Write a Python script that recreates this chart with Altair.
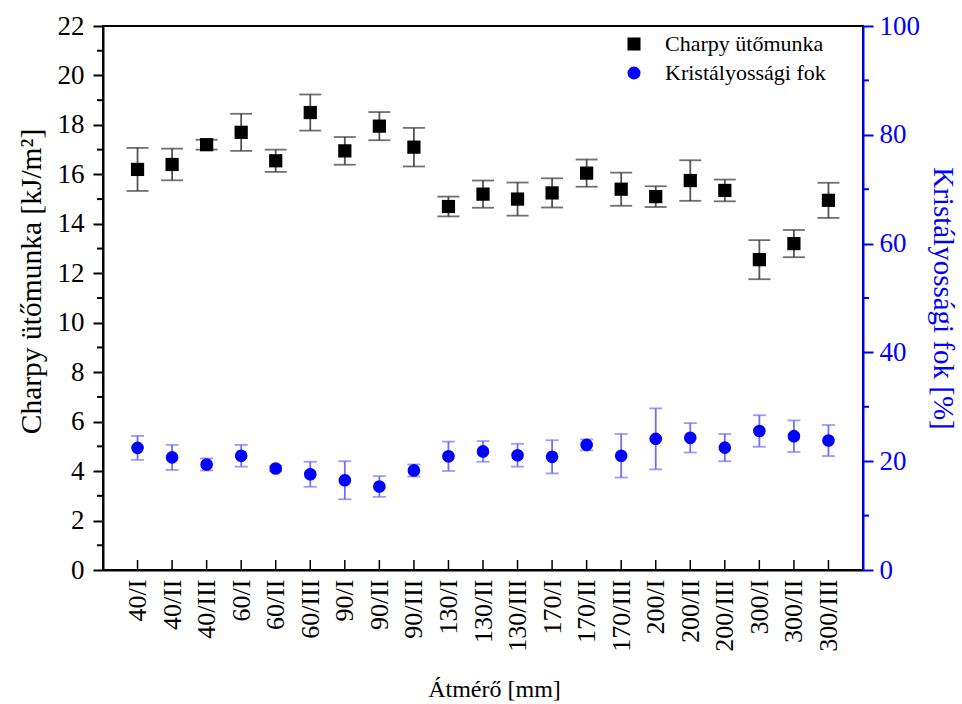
import altair as alt
import pandas as pd

cats = ["40/I", "40/II", "40/III", "60/I", "60/II", "60/III", "90/I", "90/II", "90/III",
        "130/I", "130/II", "130/III", "170/I", "170/II", "170/III",
        "200/I", "200/II", "200/III", "300/I", "300/II", "300/III"]

charpy = [16.2, 16.4, 17.2, 17.7, 16.55, 18.5, 16.95, 17.95, 17.1, 14.7, 15.2, 15.0,
          15.25, 16.05, 15.4, 15.1, 15.75, 15.35, 12.55, 13.2, 14.95]
charpy_err = [0.87, 0.64, 0.2, 0.75, 0.45, 0.73, 0.56, 0.57, 0.78, 0.4, 0.55, 0.67,
              0.59, 0.55, 0.67, 0.42, 0.82, 0.44, 0.79, 0.55, 0.71]

cryst = [22.45, 20.7, 19.4, 21.0, 18.65, 17.6, 16.5, 15.35, 18.3, 20.9, 21.8, 21.1,
         20.8, 23.0, 21.0, 24.1, 24.3, 22.5, 25.55, 24.6, 23.8]
cryst_err = [2.2, 2.3, 1.1, 2.0, 0.5, 2.3, 3.5, 1.9, 1.1, 2.7, 1.9, 2.1,
             3.05, 1.0, 4.0, 5.6, 2.7, 2.5, 2.9, 2.9, 2.85]

left_minor = [1, 3, 5, 7, 9, 11, 13, 15, 17, 19, 21]
right_minor = [10, 30, 50, 70, 90]
series_names = ["Charpy ütőmunka", "Kristályossági fok"]

W, H = 760, 544
FONT = "Times New Roman"

df = pd.DataFrame({
    "cat": cats,
    "charpy": charpy,
    "c_lo": [v - e for v, e in zip(charpy, charpy_err)],
    "c_hi": [v + e for v, e in zip(charpy, charpy_err)],
    "cryst": cryst,
    "k_lo": [v - e for v, e in zip(cryst, cryst_err)],
    "k_hi": [v + e for v, e in zip(cryst, cryst_err)],
})

x_axis = alt.Axis(title="Átmérő [mm]", labelAngle=-90, ticks=False, labelPadding=9,
                  labelFont=FONT, titleFont=FONT, titleX=391,
                  labelFontSize=26, titleFontSize=24, titlePadding=26,
                  domainColor="black", domainWidth=2, labelColor="black")
xenc = alt.X("cat:N", sort=cats, scale=alt.Scale(type="point", padding=1), axis=x_axis)

lscale = alt.Scale(domain=[0, 22], nice=False, zero=False)
laxis = alt.Axis(title="Charpy ütőmunka [kJ/m²]", orient="left", values=list(range(0, 23, 2)),
                 labelFont=FONT, titleFont=FONT, titleY=255,
                 tickSize=10, tickWidth=2, domainWidth=2, tickColor="black", domainColor="black",
                 labelFontSize=27, titleFontSize=29.5, labelPadding=9, titlePadding=11, grid=False)
rscale = alt.Scale(domain=[0, 100], nice=False, zero=False)
raxis = alt.Axis(title="Kristályossági fok [%]", orient="right", values=list(range(0, 101, 20)),
                 labelFont=FONT, titleFont=FONT,
                 tickSize=10, tickWidth=2, domainWidth=2, tickColor="blue", domainColor="blue",
                 labelColor="blue", titleColor="blue",
                 labelFontSize=27, titleFontSize=29, labelPadding=6, titlePadding=8, grid=False)

base = alt.Chart(df)

leg = alt.Legend(title=None, orient="none", legendX=520, legendY=7, labelFont=FONT,
                 labelFontSize=22, symbolSize=170, labelOffset=20, rowPadding=7, labelLimit=400,
                 padding=0, symbolOpacity=1, symbolStrokeWidth=0, labelColor="black")
cenc = alt.Color("series:N", scale=alt.Scale(domain=series_names, range=["black", "blue"]), legend=leg)
senc = alt.Shape("series:N", scale=alt.Scale(domain=series_names, range=["square", "circle"]), legend=leg)

# left series
l_rule = base.mark_rule(color="#555555", strokeWidth=1.8).encode(
    x=xenc, y=alt.Y("c_lo:Q", scale=lscale, axis=laxis), y2="c_hi:Q")
l_cap_hi = base.mark_tick(color="#333333", size=22, thickness=1.8).encode(
    x=xenc, y=alt.Y("c_hi:Q", scale=lscale, axis=laxis))
l_cap_lo = base.mark_tick(color="#333333", size=22, thickness=1.8).encode(
    x=xenc, y=alt.Y("c_lo:Q", scale=lscale, axis=laxis))
l_pts = base.transform_calculate(series="'" + series_names[0] + "'").mark_point(
    filled=True, opacity=1, size=175).encode(
    x=xenc, y=alt.Y("charpy:Q", scale=lscale, axis=laxis), color=cenc, shape=senc)
l_minor = alt.Chart(pd.DataFrame({"v": left_minor})).mark_rule(color="black", strokeWidth=2).encode(
    y=alt.Y("v:Q", scale=lscale, axis=laxis), x=alt.value(-6), x2=alt.value(0))
x_ticks = alt.Chart(pd.DataFrame({"cat": cats})).mark_rule(color="black", strokeWidth=1.5).encode(
    x=xenc, y=alt.value(H), y2=alt.value(H - 10))

left = alt.layer(l_rule, l_cap_hi, l_cap_lo, l_pts, l_minor, x_ticks)

# right series
r_rule = base.mark_rule(color="#6f6fff", strokeWidth=1.8).encode(
    x=xenc, y=alt.Y("k_lo:Q", scale=rscale, axis=raxis), y2="k_hi:Q")
r_cap_hi = base.mark_tick(color="#6f6fff", size=13, thickness=1.8).encode(
    x=xenc, y=alt.Y("k_hi:Q", scale=rscale, axis=raxis))
r_cap_lo = base.mark_tick(color="#6f6fff", size=13, thickness=1.8).encode(
    x=xenc, y=alt.Y("k_lo:Q", scale=rscale, axis=raxis))
r_pts = base.transform_calculate(series="'" + series_names[1] + "'").mark_point(
    filled=True, opacity=1, size=160).encode(
    x=xenc, y=alt.Y("cryst:Q", scale=rscale, axis=raxis), color=cenc, shape=senc)
r_minor = alt.Chart(pd.DataFrame({"v": right_minor})).mark_rule(color="blue", strokeWidth=2).encode(
    y=alt.Y("v:Q", scale=rscale, axis=raxis), x=alt.value(W), x2=alt.value(W + 6))

right = alt.layer(r_rule, r_cap_hi, r_cap_lo, r_pts, r_minor)

chart = alt.layer(left, right).resolve_scale(y="independent").properties(
    width=W, height=H,
    autosize=alt.AutoSizeParams(type="none"),
    padding={"left": 103, "top": 26, "right": 99, "bottom": 134},
    background="white",
).configure(font=FONT).configure_view(stroke="black", strokeWidth=2).configure_axis(
    labelFont=FONT, titleFont=FONT, titleFontWeight="normal", labelColor="black", titleColor="black"
).configure_legend(labelFont=FONT)

chart.save("out.html", embed_options={"renderer": "svg", "actions": False})
